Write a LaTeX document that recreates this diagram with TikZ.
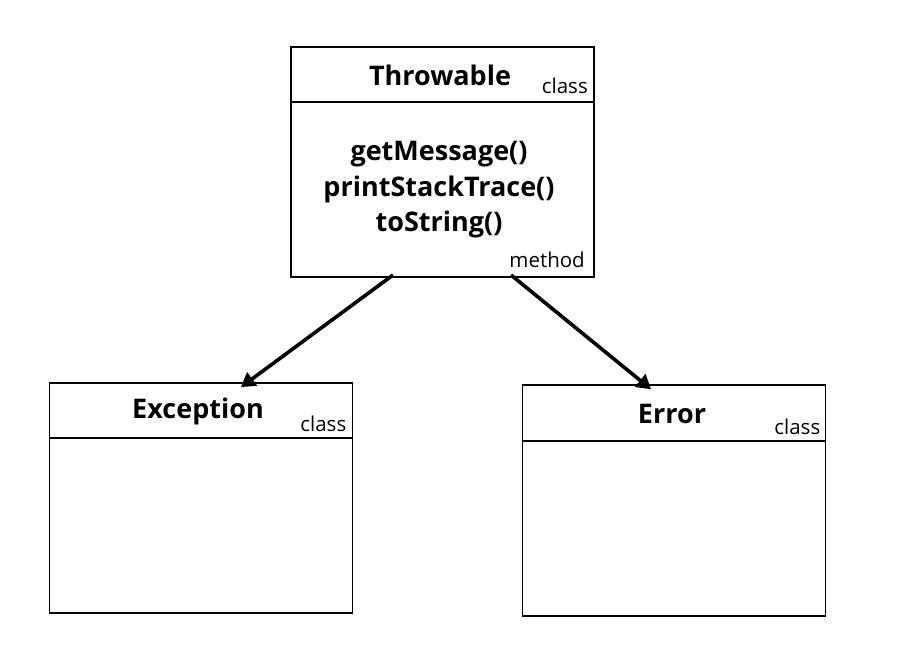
\documentclass[tikz,border=0pt]{standalone}
\usepackage{fontspec}
\setmainfont{Open Sans}
\usetikzlibrary{arrows.meta}
\begin{document}
\begin{tikzpicture}[x=1pt,y=-1pt,
  part/.style={draw=black, line width=1.6pt, rectangle, minimum width=303pt, inner sep=0pt, outer sep=0pt},
  head/.style={part, minimum height=55pt},
  body/.style={part, minimum height=175pt},
  title/.style={font=\fontsize{27}{32}\selectfont\bfseries, inner sep=0pt},
  tag/.style={font=\fontsize{20.5}{24}\selectfont, inner sep=0pt, anchor=base east},
  methods/.style={font=\fontsize{27}{35.5}\selectfont\bfseries, align=center, inner sep=0pt},
  inherit/.style={line width=3.6pt, -{Triangle[length=14pt,width=16pt]}, shorten >=-2pt}
]
\useasboundingbox (0,0) rectangle (900,650);

% Throwable
\node[head] (thead) at (442.5,74.5) {};
\node[body] (tbody) at (442.5,189.5) {};
\node[title] (tname) at (440,75) {Throwable};
\node[tag] (tcls) at ([xshift=-6pt,yshift=8pt]thead.south east) {class};
\node[methods] (tmeth) at (439,190) {getMessage()\\printStackTrace()\\toString()};
\node[tag] (tmlab) at ([xshift=-9pt,yshift=10pt]tbody.south east) {method};

% Exception
\node[head] (ehead) at (201,410.5) {};
\node[body] (ebody) at (201,525.5) {};
\node[title] (ename) at (198,411) {Exception};
\node[tag] (ecls) at ([xshift=-6pt,yshift=7pt]ehead.south east) {class};

% Error
\node[head, minimum height=56pt] (rhead) at (674,413) {};
\node[body] (rbody) at (674,528.5) {};
\node[title] (rname) at (672,414) {Error};
\node[tag] (rcls) at ([xshift=-5pt,yshift=7pt]rhead.south east) {class};

% connectors
\coordinate (a1s) at ([xshift=102pt,yshift=2pt]tbody.south west);
\coordinate (a1e) at ([xshift=193pt,yshift=-3pt]ehead.north west);
\coordinate (a2s) at ([xshift=220pt,yshift=2pt]tbody.south west);
\coordinate (a2e) at ([xshift=127pt,yshift=-3pt]rhead.north west);
\draw[inherit] (a1s) -- (a1e);
\draw[inherit] (a2s) -- (a2e);
\end{tikzpicture}
\end{document}
